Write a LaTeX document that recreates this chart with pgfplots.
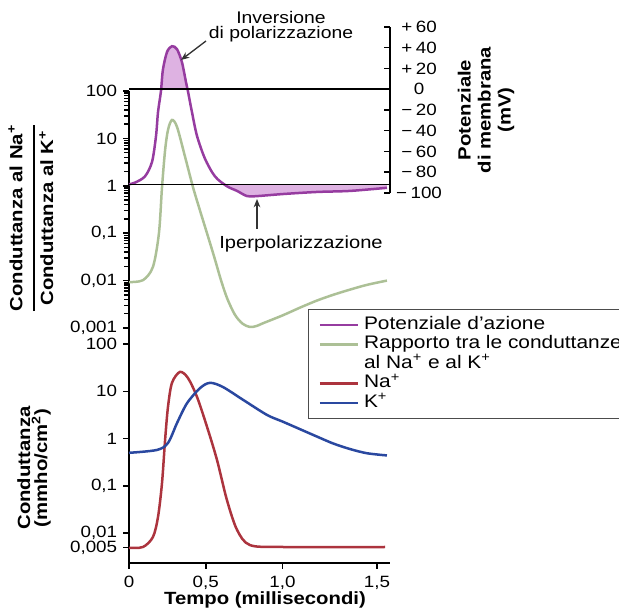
\documentclass[border=0pt]{standalone}
\usepackage{fontspec}
\setmainfont{Liberation Sans}[FakeStretch=1.15]
\usepackage{pgfplots}
\pgfplotsset{compat=1.18}
\usepgfplotslibrary{fillbetween}
\usetikzlibrary{arrows.meta}

\definecolor{cAP}{RGB}{150,60,160}
\definecolor{cAPfill}{RGB}{222,178,226}
\definecolor{cRatio}{RGB}{172,192,150}
\definecolor{cNa}{RGB}{172,52,62}
\definecolor{cK}{RGB}{42,72,160}

% 1 px of the reference = 0.6pt
\pgfplotsset{
  panel/.style={
    scale only axis, width=156.6pt, xmin=0, xmax=1.70, clip=false,
    axis line style={black, line width=0.9pt},
    every tick/.style={black, line width=0.9pt},
    major tick length=3.6pt,
    tick label style={font=\fontsize{9.8}{11}\selectfont},
    yticklabel style={inner ysep=0pt},
    minor tick num=0,
  },
}
\newcommand\tsp{\hspace{0.22em}}

\begin{document}
\begin{tikzpicture}

% ratio Na/K (top, log)
\begin{axis}[panel, at={(77.4pt,171.6pt)}, anchor=south west, height=142.2pt,
  ymode=log, ymin=0.001, ymax=100,
  axis x line=none, axis y line*=left, tick align=outside,
  ytick={0.001,0.01,0.1,1,10,100},
  yticklabels={{0,001},{0,01},{0,1},1,10,100}]
\addplot[cRatio, line width=1.5pt, smooth] coordinates {
(0,0.0093) (0.091,0.0102) (0.156,0.0195) (0.195,0.1) (0.215,0.93)
(0.235,5.6) (0.254,15.1) (0.280,24.5) (0.313,17.4) (0.365,4.1)
(0.417,0.93) (0.465,0.282) (0.508,0.1) (0.555,0.0316) (0.60,0.01)
(0.64,0.00417) (0.69,0.0019) (0.74,0.00123) (0.788,0.00105)
(0.83,0.0011) (0.873,0.00126) (1.003,0.00186) (1.114,0.00269)
(1.225,0.0038) (1.329,0.0050) (1.44,0.00646) (1.55,0.00813) (1.68,0.01)
};
\end{axis}

% membrane potential (mV, right axis)
\begin{axis}[panel, at={(77.4pt,252.6pt)}, anchor=south west, height=99.6pt,
  set layers,
  ymin=-100, ymax=60,
  axis x line=none, axis y line*=right, tick align=inside,
  ytick={-100,-80,-60,-40,-20,0,20,40,60},
  yticklabels={−\tsp100,−\tsp80,−\tsp60,−\tsp40,−\tsp20,0,+\tsp20,+\tsp40,+\tsp60},
  yticklabel style={anchor=center, xshift=17.4pt}]
\addplot[name path=ap, cAP, line width=1.5pt, smooth] coordinates {
(0,-91.6) (0.039,-90) (0.104,-84) (0.150,-70) (0.176,-45) (0.189,-22)
(0.208,-2) (0.221,19) (0.248,36) (0.280,41.5) (0.313,38.5) (0.345,26)
(0.371,7) (0.384,-2) (0.410,-22) (0.443,-45) (0.495,-67) (0.560,-84)
(0.638,-93.5) (0.704,-98) (0.769,-103) (0.834,-103) (1.003,-101)
(1.225,-99) (1.440,-98) (1.68,-95)
};
\addplot[name path=zero, black, line width=0.9pt] coordinates {(0,0) (1.70,0)};
\addplot[name path=rest, black, line width=0.9pt] coordinates {(0,-91.6) (1.70,-91.6)};
\addplot[cAPfill] fill between[of=ap and zero, soft clip={domain=0.206:0.382}];
\addplot[cAPfill] fill between[of=ap and rest, soft clip={domain=0.62:1.68}];
\end{axis}

% conductances (bottom, log)
\begin{axis}[panel, at={(77.4pt,30.6pt)}, anchor=south west, height=141pt,
  ymode=log, ymin=0.00234, ymax=218,
  axis x line*=bottom, axis y line*=left, tick align=outside,
  xtick={0,0.5,1,1.615}, xticklabels={0,{0,5},{1,0},{1,5}},
  xticklabel style={yshift=-1pt},
  ytick={0.005,0.01,0.1,1,10,100},
  yticklabels={{0,005},{0,01},{0,1},1,10,100},
  legend style={at={(0.686,1.081)}, anchor=north west, draw=black!70,
    line width=0.6pt, fill=white, font=\fontsize{10.9}{12}\selectfont,
    inner xsep=6pt, inner ysep=3.5pt, row sep=0pt,
    nodes={inner ysep=0pt, inner xsep=3pt, text height=8.4pt, text depth=3.3pt}},
  legend cell align=left,
  legend image code/.code={\draw[#1] (0pt,0pt) -- (22.8pt,0pt);}]
\addlegendimage{cAP, line width=1.5pt}
\addlegendentry{Potenziale d’azione}
\addlegendimage{cRatio, line width=1.5pt}
\addlegendentry{Rapporto tra le conduttanze}
\addlegendimage{empty legend}
\addlegendentry{al Na\textsuperscript{+} e al K\textsuperscript{+}}
\addplot[cNa, line width=1.5pt, smooth] coordinates {
(0,0.0049) (0.091,0.0051) (0.156,0.0083) (0.189,0.022) (0.215,0.115)
(0.235,0.93) (0.254,4.7) (0.280,15.1) (0.332,25.7) (0.384,19.1)
(0.443,7.6) (0.508,1.78) (0.573,0.355) (0.638,0.05) (0.704,0.0117)
(0.788,0.0056) (1.003,0.0051) (1.668,0.0051)
};
\addlegendentry{Na\textsuperscript{+}}
\addplot[cK, line width=1.5pt, smooth] coordinates {
(0,0.5) (0.182,0.575) (0.254,0.81) (0.313,2.14) (0.378,5.6) (0.463,11.7)
(0.528,15.1) (0.612,12.3) (0.743,6.6) (0.899,3.16) (1.0,2.29) (1.114,1.58)
(1.225,1.10) (1.329,0.79) (1.440,0.60) (1.550,0.49) (1.68,0.44)
};
\addlegendentry{K\textsuperscript{+}}
\end{axis}

% labels and annotations
\node[font=\bfseries\fontsize{10.6}{12}\selectfont] at (159pt,8.4pt) {Tempo (millisecondi)};
\node[rotate=90, align=center, font=\bfseries\fontsize{10.6}{9}\selectfont]
  at (20.4pt,87.6pt) {Conduttanza\\(mmho/cm\textsuperscript{2})};
\node[rotate=90, font=\bfseries\fontsize{10.6}{12.7}\selectfont, inner sep=0pt]
  at (20.1pt,237.6pt) {\setlength{\arrayrulewidth}{0.9pt}%
  \begin{tabular}{@{}c@{}}Conduttanza al Na\textsuperscript{+}\\[2.8pt]\hline
  \rule{0pt}{11pt}Conduttanza al K\textsuperscript{+}\end{tabular}};
\node[rotate=90, align=center, font=\bfseries\fontsize{10.6}{12}\selectfont]
  at (291.6pt,302.4pt) {Potenziale\\di membrana\\(mV)};
\node[align=center, font=\fontsize{10.1}{9}\selectfont] at (168.6pt,352.2pt)
  {Inversione\\di polarizzazione};
\draw[-{Stealth[length=5pt,width=4pt]}, line width=0.8pt, black!80]
  (123.6pt,343.8pt) -- (108.6pt,332.4pt);
\node[font=\fontsize{10.5}{12}\selectfont] at (180.6pt,222pt) {Iperpolarizzazione};
\draw[-{Stealth[length=5pt,width=4pt]}, line width=0.8pt, black!80]
  (154.2pt,231pt) -- (154.2pt,249pt);

\pgfresetboundingbox
\useasboundingbox (0pt,0pt) rectangle (371.4pt,368.4pt);
\end{tikzpicture}
\end{document}
